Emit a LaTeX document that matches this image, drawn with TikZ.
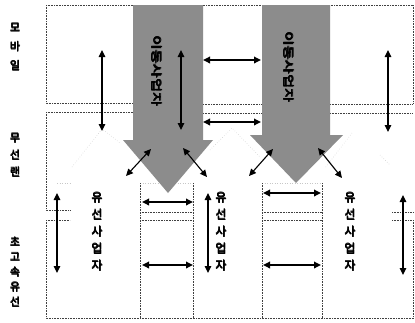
\documentclass[tikz,border=0pt]{standalone}
\usepackage{fontspec}
\newfontfamily\kr{Noto Sans CJK KR}
\newcommand\fb[1]{\rlap{\kern0.5pt#1}\rlap{\raisebox{0.4pt}{#1}}\rlap{\kern0.25pt\raisebox{-0.2pt}{#1}}#1}
\usetikzlibrary{arrows.meta}
\begin{document}
\begin{tikzpicture}[x=1pt,y=-1pt,
  frame/.style={densely dotted, line width=0.6pt, black!75},
  faint/.style={dotted, line width=0.5pt, black!22},
  bigarrow/.style={fill=black!45, draw=none},
  dbl/.style={{Triangle[length=7pt,width=6.5pt]}-{Triangle[length=7pt,width=6.5pt]}, line width=1.1pt},
  dblh/.style={dbl, line width=1.7pt},
  side/.style={font=\kr\fontsize{11}{#1}\selectfont, align=center, inner sep=0pt},
  wired/.style={font=\kr\fontsize{12}{17}\selectfont, align=center, inner sep=0pt},
  mobtxt/.style={font=\kr\fontsize{11}{13}\selectfont, inner sep=0pt, rotate=-90}]
\useasboundingbox[fill=white] (0,0) rectangle (415,322);

% frame lines
\draw[frame] (46,5) -- (413,5);
\draw[frame] (46,5) -- (46,103) -- (133,103);
\draw[frame] (46,112) -- (133,112);
\draw[frame] (46,112) -- (46,210) -- (70,210);
\draw[frame] (46,220) -- (70,220);
\draw[frame] (46,220) -- (46,318) -- (413,318);
\draw[frame] (203,104) -- (262,104);
\draw[frame] (203,113) -- (262,113);
\draw[frame] (330,104) -- (413,104);
\draw[frame] (330,113) -- (413,113);
\draw[frame] (413,5) -- (413,104);
\draw[frame] (413,220) -- (413,318);
\draw[frame] (392,212) -- (413,212);
\draw[frame] (392,220) -- (413,220);
% lower columns
\draw[faint] (140,183) -- (193,183);
\draw[frame] (140,183) -- (140,318);
\draw[frame] (193,183) -- (193,318);
\draw[frame] (140,212) -- (193,212);
\draw[frame] (140,220) -- (193,220);
\draw[faint] (262,183) -- (322,183);
\draw[frame] (262,183) -- (262,318);
\draw[frame] (322,183) -- (322,318);
\draw[frame] (262,212) -- (322,212);
\draw[frame] (262,220) -- (322,220);
\draw[faint] (57,183) -- (70,183);

% faint roof lines
\draw[faint] (72,167) -- (102,129) -- (120,143);
\draw[faint] (210,150) -- (232,128) -- (260,157);
\draw[faint] (352,133) -- (325,168);
\draw[faint] (380,155) -- (390,165);

% big arrows
\draw[bigarrow] (133,5) -- (203,5) -- (203,140) -- (213,140) -- (168,193) -- (123,140) -- (133,140) -- cycle;
\draw[bigarrow] (262,5) -- (330,5) -- (330,135) -- (343,135) -- (296,183) -- (250,135) -- (262,135) -- cycle;

% texts
\node[side=19] (mob) at (15,47) {\fb{모}\\\fb{바}\\\fb{일}};
\node[side=17] (wlan) at (15,155) {\fb{무}\\\fb{선}\\\fb{랜}};
\node[side=15] (wire) at (15,272) {\fb{초}\\\fb{고}\\\fb{속}\\\fb{유}\\\fb{선}};
\node[mobtxt] (op1) at (157,71) {\fb{\scalebox{1.4}[1]{이동사업자}}};
\node[mobtxt] (op2) at (289,67) {\fb{\scalebox{1.4}[1]{이동사업자}}};
\node[wired] (w1) at (97,232) {\fb{유}\\\fb{선}\\\fb{사}\\\fb{업}\\\fb{자}};
\node[wired] (w2) at (221,232) {\fb{유}\\\fb{선}\\\fb{사}\\\fb{업}\\\fb{자}};
\node[wired] (w3) at (350,232) {\fb{유}\\\fb{선}\\\fb{사}\\\fb{업}\\\fb{자}};

% double arrows
\coordinate (a1t) at (102,50);  \coordinate (a1b) at (102,131);
\coordinate (a2t) at (181,50);  \coordinate (a2b) at (181,130);
\coordinate (a3l) at (203,60);  \coordinate (a3r) at (261,60);
\coordinate (a4l) at (203,122); \coordinate (a4r) at (261,122);
\coordinate (a5t) at (388,50);  \coordinate (a5b) at (388,132);
\coordinate (d1a) at (151,149); \coordinate (d1b) at (126,176);
\coordinate (d2a) at (183,148); \coordinate (d2b) at (207,177);
\coordinate (d3a) at (273,149); \coordinate (d3b) at (249,176);
\coordinate (d4a) at (318,148); \coordinate (d4b) at (342,178);
\coordinate (b1t) at (57,193);  \coordinate (b1b) at (57,273);
\coordinate (b2l) at (142,202); \coordinate (b2r) at (193,202);
\coordinate (b3l) at (142,265); \coordinate (b3r) at (193,265);
\coordinate (b4t) at (208,193); \coordinate (b4b) at (208,273);
\coordinate (b5l) at (263,193); \coordinate (b5r) at (321,193);
\coordinate (b6l) at (263,265); \coordinate (b6r) at (321,265);
\coordinate (b7t) at (403,195); \coordinate (b7b) at (403,275);

\draw[dbl] (a1t) -- (a1b);
\draw[dbl] (a2t) -- (a2b);
\draw[dblh] (a3l) -- (a3r);
\draw[dblh] (a4l) -- (a4r);
\draw[dbl] (a5t) -- (a5b);
\draw[dbl] (d1a) -- (d1b);
\draw[dbl] (d2a) -- (d2b);
\draw[dbl] (d3a) -- (d3b);
\draw[dbl] (d4a) -- (d4b);
\draw[dbl] (b1t) -- (b1b);
\draw[dblh] (b2l) -- (b2r);
\draw[dblh] (b3l) -- (b3r);
\draw[dbl] (b4t) -- (b4b);
\draw[dblh] (b5l) -- (b5r);
\draw[dblh] (b6l) -- (b6r);
\draw[dbl] (b7t) -- (b7b);
\end{tikzpicture}
\end{document}
